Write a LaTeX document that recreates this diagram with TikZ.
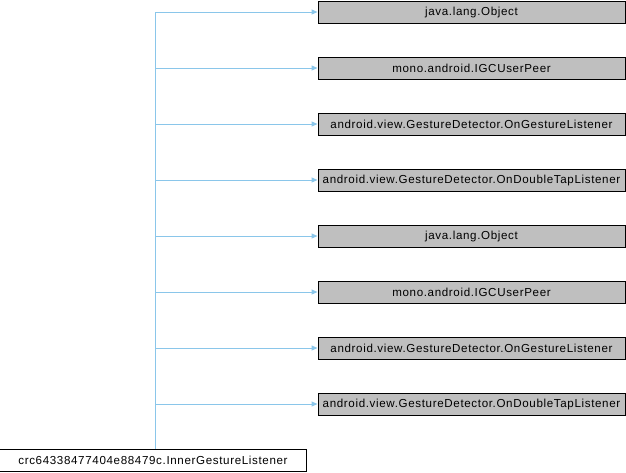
\documentclass[tikz,border=0pt]{standalone}
\usepackage{fontspec}
\setmainfont{Liberation Sans}[LetterSpace=5.5]
\usetikzlibrary{arrows.meta}
\usetikzlibrary{positioning}

\definecolor{edgeblue}{RGB}{138,198,234}
\definecolor{basegray}{RGB}{191,191,191}

\tikzset{
  classbox/.style={draw=black, line width=1pt, minimum width=307pt, minimum height=22pt,
    inner sep=0pt, font=\fontsize{11.6}{13}\selectfont},
  basebox/.style={classbox, fill=basegray},
  inherit/.style={draw=edgeblue, line width=1pt, -{Triangle[length=6pt,width=5pt]}}
}

\begin{document}
\begin{tikzpicture}[x=1pt, y=-1pt]
\useasboundingbox (0,0) rectangle (626,472);

% Define the spacing between base classes
\def\gap{56}

% Base classes, top to bottom
\foreach \i/\name in {0/java.lang.Object, 1/mono.android.IGCUserPeer,
    2/android.view.GestureDetector.OnGestureListener,
    3/android.view.GestureDetector.OnDoubleTapListener,
    4/java.lang.Object, 5/mono.android.IGCUserPeer,
    6/android.view.GestureDetector.OnGestureListener,
    7/android.view.GestureDetector.OnDoubleTapListener} {
    \node[basebox] (base\i) at (471.5, 12 + \i * \gap) {\name};
}

% The derived class
\node[classbox, fill=white] (child) at (153, 460) {crc64338477404e88479c.InnerGestureListener};

% Connect the derived class to each base class
\foreach \i in {0,...,7} {
    \draw[inherit] ([xshift=2pt]child.north) |- (base\i.west);
}
\end{tikzpicture}
\end{document}
